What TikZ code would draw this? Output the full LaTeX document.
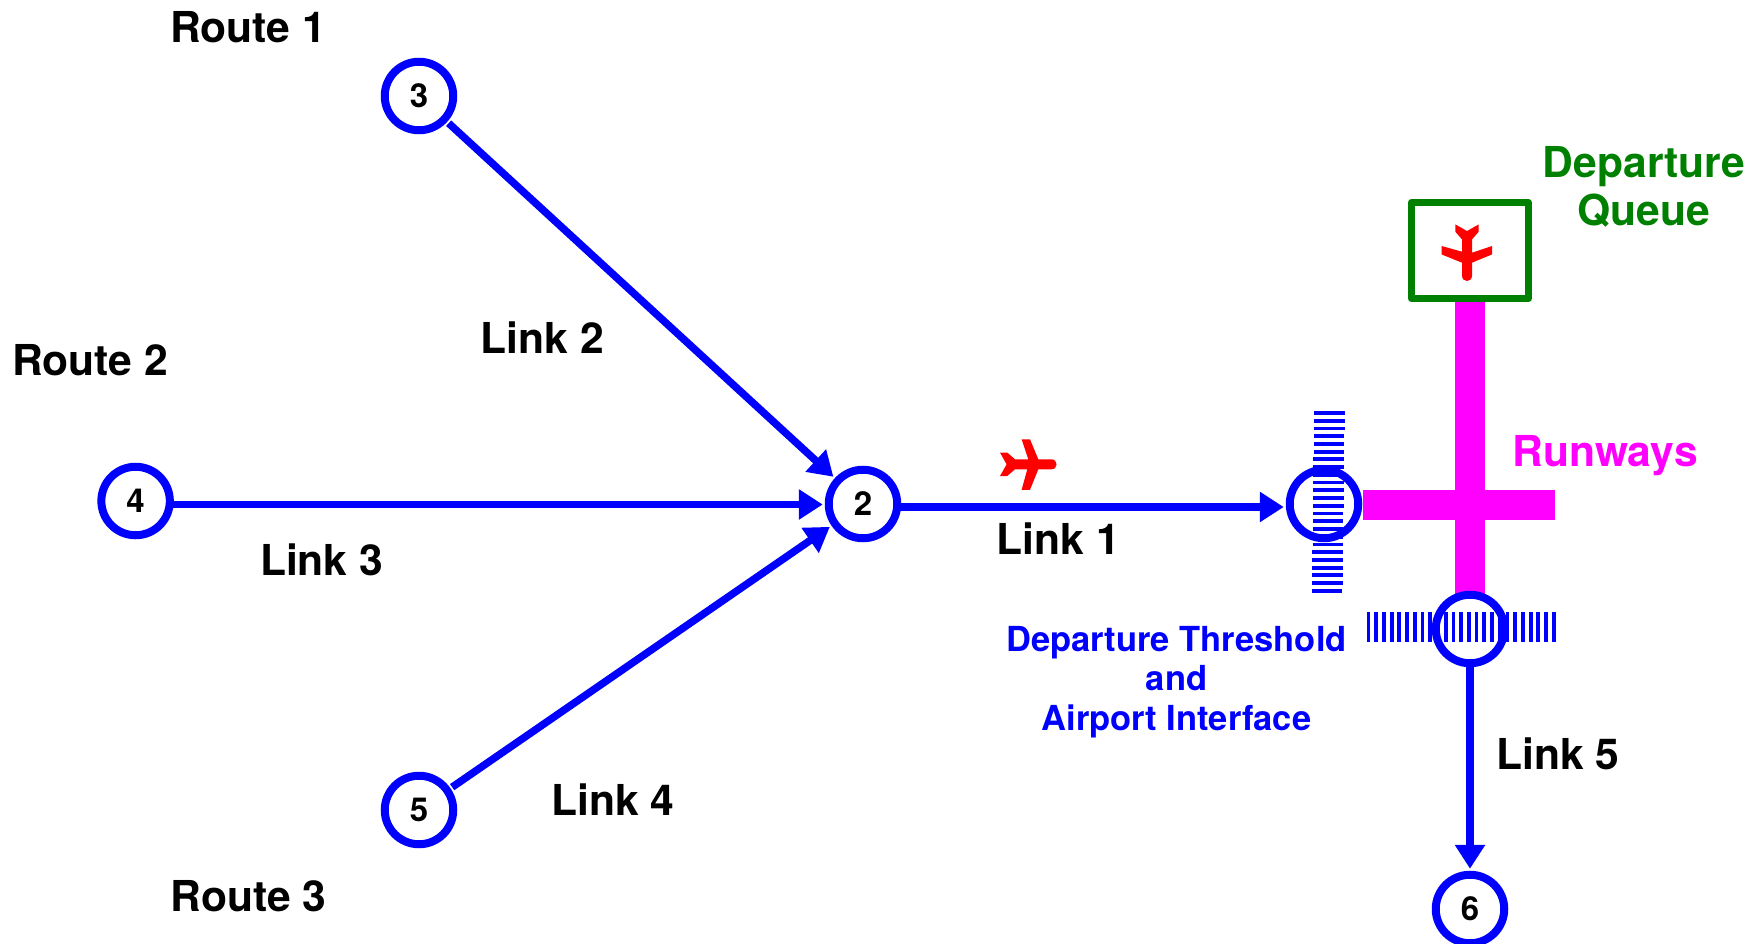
\documentclass[tikz,border=0pt]{standalone}
\usepackage{fontspec}
\setmainfont{TeX Gyre Heros}
\usetikzlibrary{arrows.meta}
\definecolor{bl}{RGB}{0,0,255}
\definecolor{gr}{RGB}{0,128,0}
\definecolor{mg}{RGB}{255,0,255}
\definecolor{rd}{RGB}{255,0,0}
\tikzset{
  netnode/.style={circle,draw=bl,line width=8pt,minimum size=68.5pt,inner sep=0pt,outer sep=6pt,font=\fontsize{33}{33}\selectfont\bfseries},
  link/.style={draw=bl,line width=7.5pt,-{Triangle[length=24pt,width=29pt]}},
  lab/.style={font=\fontsize{42.6}{48}\selectfont\bfseries,align=center,inner sep=0pt},
  small/.style={font=\fontsize{34.5}{39.5}\selectfont\bfseries,align=center,inner sep=0pt,text=bl},
  bar/.style={draw=bl,line width=3.8pt},
  airplane/.pic={
    \fill[rd] (-28.3,-11.7) -- (-21,-11.7) -- (-13.3,-5) -- (0,-5) -- (-6.7,-25) -- (1.7,-25) -- (10,-5)
      -- (23,-5) .. controls (30,-5) and (30,5) .. (23,5) -- (10,5) -- (1.7,25.5) -- (-6.7,25.5) -- (-1,5) -- (-13.3,5)
      -- (-21,11.7) -- (-28.3,11.7) -- (-21.7,0) -- cycle;
  }
}
\begin{document}
\begin{tikzpicture}[x=1pt,y=-1pt]
\useasboundingbox (0,0) rectangle (1757,944);
% runways
\fill[mg] (1455,296) rectangle (1485,596);
\fill[mg] (1363,490) rectangle (1555,520);
% thresholds
\foreach \i in {0,...,23} {
  \draw[bar] ({1314-0.087*\i},{413+7.73*\i}) -- ({1344.7-0.1*\i},{413+7.73*\i});
}
\foreach \i in {0,...,24} {
  \draw[bar] ({1368.5+7.72*\i},612) -- ({1368.5+7.72*\i},642);
}
% nodes
\node[netnode] (n2) at (863,504) {\raisebox{-1pt}{2}};
\node[netnode] (n3) at (419,96) {\raisebox{-1pt}{3}};
\node[netnode] (n4) at (135.6,501) {\raisebox{-1pt}{4}};
\node[netnode] (n5) at (419,810) {\raisebox{-1pt}{5}};
\node[netnode] (n6) at (1470,909) {6};
\node[netnode] (t1) at (1324,504) {};
\node[netnode] (t2) at (1470,629) {};
\node[draw=gr,line width=7pt,line join=round,minimum width=117pt,minimum height=96pt,inner sep=0pt] (queue) at (1470,250.5) {};
% connectors
\draw[link] (n3) -- (n2);
\draw[link] ([xshift=-5pt,yshift=-3.5pt]n4.east) -- ([yshift=-0.5pt]n2.west);
\draw[link] (n5) -- (n2);
\draw[link] ([xshift=-5pt,yshift=-3pt]n2.east) -- ([yshift=-3pt]t1.west);
\draw[link] ([yshift=5pt]t2.south) -- (n6);
% aeroplanes
\pic at (1028.3,464.3) {airplane};
\pic[rotate=-90] at (1467,252.7) {airplane};
% labels
\node[lab] (r1) at (248,27.5) {Route 1};
\node[lab] (r2) at (90,360.5) {Route 2};
\node[lab] (r3) at (248.5,896) {Route 3};
\node[lab] (l1) at (1058.5,538.5) {Link 1};
\node[lab] (l2) at (542.5,338) {Link 2};
\node[lab] (l3) at (321.6,559.5) {Link 3};
\node[lab] (l4) at (613,799.5) {Link 4};
\node[lab] (l5) at (1558,753.5) {Link 5};
\node[lab,text=gr] (lq) at (1644,186.5) {Departure\\Queue};
\node[lab,text=mg] (lr) at (1605,456) {Runways};
\node[small] (lt) at (1176.5,682) {Departure Threshold\\and\\Airport Interface};
\end{tikzpicture}
\end{document}
